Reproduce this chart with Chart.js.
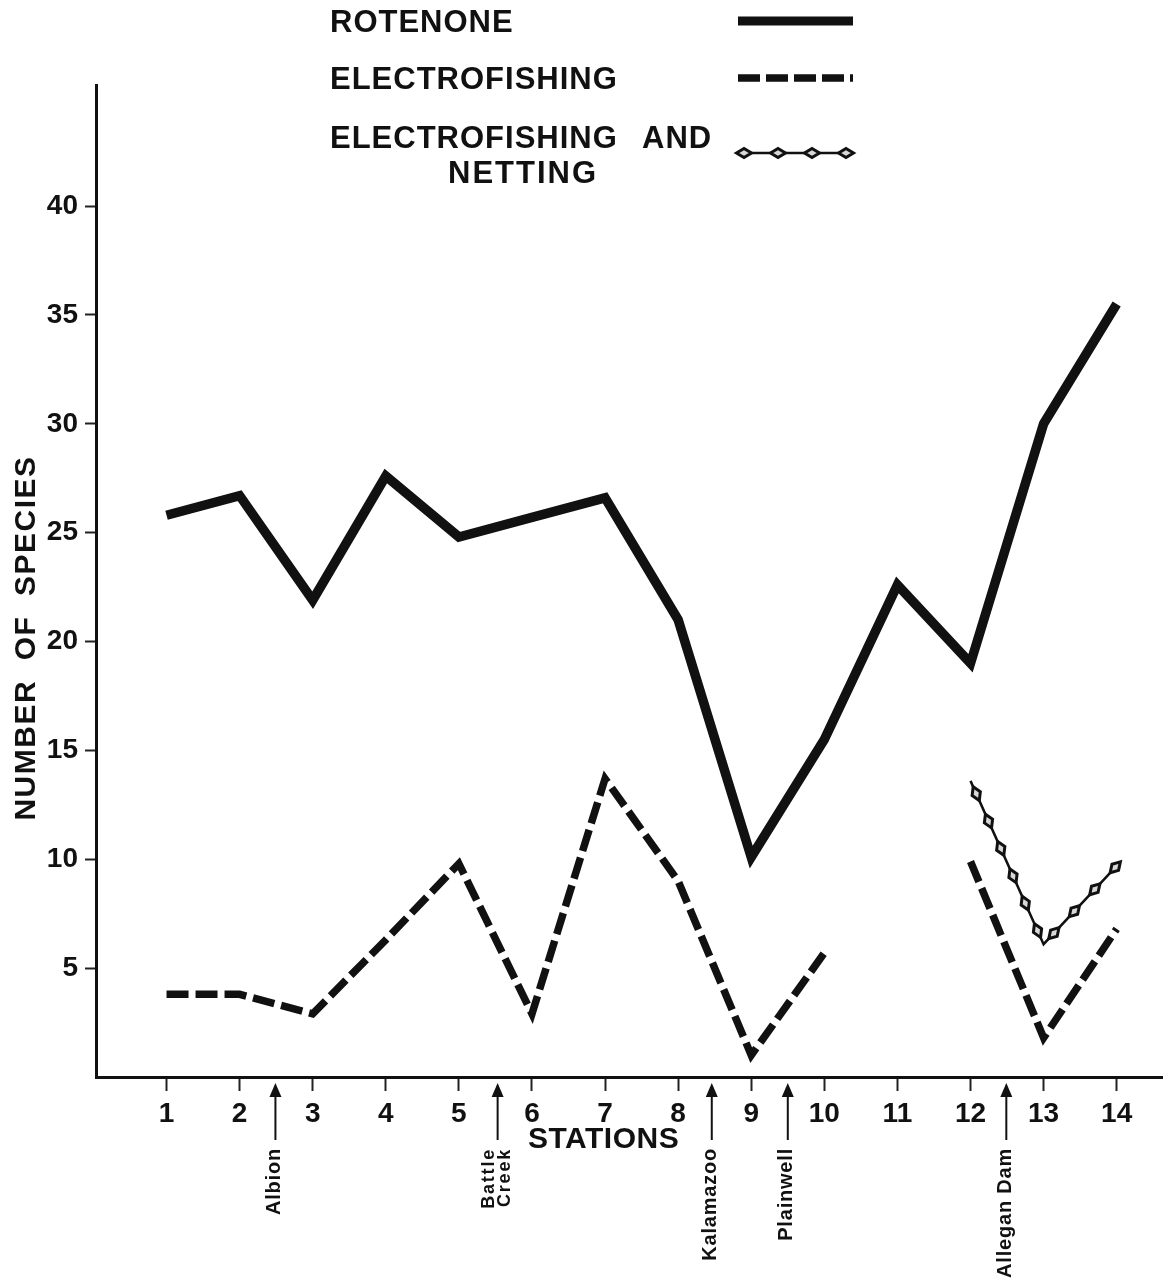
<!DOCTYPE html>
<html>
<head>
<meta charset="utf-8">
<script src="https://cdn.jsdelivr.net/npm/chart.js@4.4.1/dist/chart.umd.min.js"></script>
<style>
  html, body { margin: 0; padding: 0; background: #ffffff; }
  #wrap { width: 1164px; height: 1285px; position: relative; }
  canvas { display: block; }
</style>
</head>
<body>
<div id="wrap"><canvas id="chart" width="1164" height="1285"></canvas></div>
<script>
// ---- data ----
const stations = [1, 2, 3, 4, 5, 6, 7, 8, 9, 10, 11, 12, 13, 14];
const rotenone = [25.8, 26.7, 21.9, 27.6, 24.8, 25.7, 26.6, 21.0, 10.1, 15.5, 22.6, 19.0, 30.0, 35.5];
const electrofishing = [3.8, 3.8, 2.9, 6.3, 9.8, 2.9, 13.7, 9.0, 1.0, 5.7, null, 9.9, 1.8, 6.8];
const electrofishingNetting = [null, null, null, null, null, null, null, null, null, null, null, 13.6, 6.1, 9.7];
const yTickValues = [5, 10, 15, 20, 25, 30, 35, 40];
const seriesNames = ['ROTENONE', 'ELECTROFISHING', 'ELECTROFISHING AND NETTING'];
const townNames = [['Albion'], ['Battle', 'Creek'], ['Kalamazoo'], ['Plainwell'], ['Allegan Dam']];
const townStations = [2.49, 5.53, 8.46, 9.5, 12.49];
const xAxisTitle = 'STATIONS';
const yAxisTitle = 'NUMBER  OF  SPECIES';

const FONT = "'Liberation Sans', Arial, Helvetica, sans-serif";
const INK = '#111111';

function pts(arr) { return stations.map((s, i) => ({ x: s, y: arr[i] })); }

function drawDiamond(ctx, x, y, ang, len, wid) {
  ctx.save();
  ctx.translate(x, y);
  ctx.rotate(ang);
  ctx.beginPath();
  ctx.moveTo(-len / 2, 0);
  ctx.lineTo(0, -wid / 2);
  ctx.lineTo(len / 2, 0);
  ctx.lineTo(0, wid / 2);
  ctx.closePath();
  ctx.fillStyle = '#d8d8d8';
  ctx.fill();
  ctx.lineWidth = 3;
  ctx.lineJoin = 'miter';
  ctx.strokeStyle = INK;
  ctx.stroke();
  ctx.restore();
}

function diamondsAlong(ctx, points, start, step) {
  let carry = start;
  for (let i = 0; i < points.length - 1; i++) {
    const a = points[i], b = points[i + 1];
    const dx = b.x - a.x, dy = b.y - a.y;
    const L = Math.hypot(dx, dy);
    const ang = Math.atan2(dy, dx);
    let d = carry;
    while (d <= L) {
      drawDiamond(ctx, a.x + dx * d / L, a.y + dy * d / L, ang, 15, 9);
      d += step;
    }
    carry = d - L;
  }
}

const decorPlugin = {
  id: 'decor',
  afterDatasetsDraw(chart) {
    const ctx = chart.ctx;
    const meta = chart.getDatasetMeta(2);
    const p = meta.data.filter(e => !e.skip && e.y != null && !isNaN(e.y)).map(e => ({ x: e.x, y: e.y }));
    ctx.save();
    diamondsAlong(ctx, p, 14, 30);
    ctx.restore();
  },
  afterDraw(chart) {
    const ctx = chart.ctx;
    const xs = chart.scales.x;
    ctx.save();
    ctx.fillStyle = INK;
    ctx.strokeStyle = INK;

    // legend
    ctx.font = 'bold 31px ' + FONT;
    ctx.letterSpacing = '1px';
    ctx.textAlign = 'left';
    ctx.textBaseline = 'alphabetic';
    ctx.fillText(seriesNames[0], 330, 32);
    ctx.fillText(seriesNames[1], 330, 89);
    ctx.fillText('ELECTROFISHING', 330, 148);
    ctx.fillText('AND', 642, 148);
    ctx.letterSpacing = '2px';
    ctx.fillText('NETTING', 448, 183);
    ctx.letterSpacing = '0px';

    // legend samples
    ctx.lineCap = 'butt';
    ctx.beginPath();
    ctx.lineWidth = 9;
    ctx.moveTo(738, 21); ctx.lineTo(853, 21);
    ctx.stroke();
    ctx.beginPath();
    ctx.lineWidth = 7.5;
    ctx.setLineDash([22, 6]);
    ctx.moveTo(738, 78); ctx.lineTo(853, 78);
    ctx.stroke();
    ctx.setLineDash([]);
    ctx.beginPath();
    ctx.lineWidth = 2.5;
    ctx.moveTo(738, 153); ctx.lineTo(853, 153);
    ctx.stroke();
    diamondsAlong(ctx, [{ x: 738, y: 153 }, { x: 853, y: 153 }], 6, 34);

    // axis titles
    ctx.fillStyle = INK;
    ctx.font = 'bold 30px ' + FONT;
    ctx.letterSpacing = '0.5px';
    ctx.textAlign = 'left';
    ctx.fillText(xAxisTitle, 528, 1148);
    ctx.save();
    ctx.translate(35, 638);
    ctx.rotate(-Math.PI / 2);
    ctx.textAlign = 'center';
    ctx.letterSpacing = '1.5px';
    ctx.fillText(yAxisTitle, 0, 0);
    ctx.restore();
    ctx.letterSpacing = '0px';

    // town arrows and labels
    townStations.forEach((s, i) => {
      const x = xs.getPixelForValue(s);
      ctx.beginPath();
      ctx.lineWidth = 2;
      ctx.moveTo(x, 1094); ctx.lineTo(x, 1140);
      ctx.stroke();
      ctx.beginPath();
      ctx.moveTo(x, 1083);
      ctx.lineTo(x - 6, 1097);
      ctx.lineTo(x + 6, 1097);
      ctx.closePath();
      ctx.fill();

      const lines = townNames[i];
      ctx.save();
      ctx.translate(x, 1148);
      ctx.rotate(-Math.PI / 2);
      ctx.textAlign = 'right';
      ctx.textBaseline = 'middle';
      if (lines.length === 1) {
        ctx.font = 'bold 20px ' + FONT;
        ctx.letterSpacing = '0.8px';
        ctx.fillText(lines[0], 0, -1);
      } else {
        ctx.font = 'bold 18px ' + FONT;
        ctx.letterSpacing = '1.8px';
        ctx.fillText(lines[0], 0, -9);
        ctx.fillText(lines[1], 0, 7);
      }
      ctx.restore();
    });
    ctx.restore();
  }
};

const tickFont = { family: FONT, size: 28, weight: 'bold' };

new Chart(document.getElementById('chart'), {
  type: 'line',
  data: {
    datasets: [
      {
        label: seriesNames[0],
        data: pts(rotenone),
        borderColor: INK,
        borderWidth: 9.5,
        borderCapStyle: 'butt',
        borderJoinStyle: 'miter',
        pointRadius: 0,
        tension: 0,
        fill: false
      },
      {
        label: seriesNames[1],
        data: pts(electrofishing),
        borderColor: INK,
        borderWidth: 7.5,
        borderDash: [22, 7],
        borderCapStyle: 'butt',
        borderJoinStyle: 'miter',
        pointRadius: 0,
        tension: 0,
        spanGaps: false,
        fill: false
      },
      {
        label: seriesNames[2],
        data: pts(electrofishingNetting),
        borderColor: INK,
        borderWidth: 2.5,
        pointRadius: 0,
        tension: 0,
        spanGaps: false,
        fill: false
      }
    ]
  },
  options: {
    responsive: false,
    animation: false,
    devicePixelRatio: 1,
    layout: { padding: { top: 85, right: 2, left: 0, bottom: 0 } },
    plugins: { legend: { display: false }, tooltip: { enabled: false }, title: { display: false } },
    events: [],
    scales: {
      x: {
        type: 'linear',
        min: 0.035,
        max: 14.62,
        grid: { drawOnChartArea: false, drawTicks: true, tickLength: 14, tickColor: '#222', tickWidth: 2 },
        border: { display: true, color: INK, width: 3 },
        ticks: { font: tickFont, color: INK, padding: 6, autoSkip: false, maxRotation: 0, minRotation: 0 },
        afterBuildTicks: (s) => { s.ticks = stations.map(v => ({ value: v })); },
        afterFit: (s) => { s.height = 208; }
      },
      y: {
        type: 'linear',
        min: 0,
        max: 45.56,
        grid: { drawOnChartArea: false, drawTicks: true, tickLength: 11, tickColor: '#222', tickWidth: 2 },
        border: { display: true, color: INK, width: 3 },
        ticks: { font: tickFont, color: INK, padding: 7 },
        afterBuildTicks: (s) => { s.ticks = yTickValues.map(v => ({ value: v })); },
        afterFit: (s) => { s.width = 96; }
      }
    }
  },
  plugins: [decorPlugin]
});
</script>
</body>
</html>
